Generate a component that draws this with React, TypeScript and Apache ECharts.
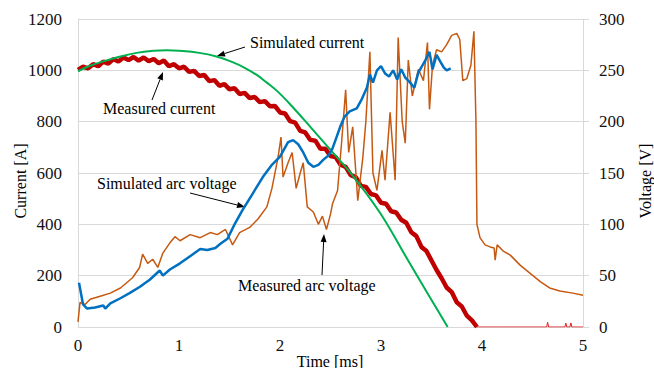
import React, { useEffect, useRef } from "react";
import * as echarts from "echarts";

const CURRENT_TICKS = [0, 200, 400, 600, 800, 1000, 1200];
const VOLTAGE_TICKS = [0, 50, 100, 150, 200, 250, 300];
const TIME_TICKS = [0, 1, 2, 3, 4, 5];

// [time ms, current A]
const measuredCurrent: [number, number][] = [
  [0.0, 1002], [0.05, 1014], [0.1, 1008], [0.15, 1024], [0.2, 1016], [0.25, 1034],
  [0.3, 1026], [0.35, 1044], [0.4, 1034], [0.45, 1050], [0.5, 1040], [0.55, 1052],
  [0.6, 1038], [0.65, 1050], [0.7, 1036], [0.75, 1044], [0.8, 1028], [0.85, 1038],
  [0.9, 1016], [0.95, 1024], [1.0, 1008], [1.05, 1014], [1.1, 994], [1.15, 998],
  [1.2, 978], [1.25, 982], [1.3, 958], [1.35, 962], [1.4, 940], [1.45, 946],
  [1.5, 926], [1.55, 930], [1.6, 908], [1.65, 912], [1.7, 892], [1.75, 896],
  [1.8, 876], [1.85, 880], [1.9, 860], [1.95, 861], [2.0, 836], [2.05, 832],
  [2.1, 802], [2.15, 796], [2.2, 764], [2.25, 758], [2.3, 729], [2.35, 726],
  [2.4, 694], [2.45, 694], [2.5, 666], [2.55, 662], [2.6, 632], [2.65, 624],
  [2.7, 592], [2.75, 584], [2.8, 550], [2.85, 546], [2.9, 518], [2.95, 513],
  [3.0, 484], [3.05, 480], [3.1, 451], [3.15, 446], [3.2, 418], [3.25, 406],
  [3.3, 369], [3.35, 354], [3.4, 312], [3.45, 296], [3.5, 259], [3.55, 222],
  [3.6, 190], [3.65, 154], [3.7, 136], [3.75, 96], [3.8, 80], [3.85, 44],
  [3.9, 26], [3.95, 0], [4.2, 0], [4.64, 0], [4.65, 18], [4.66, 0],
  [4.82, 0], [4.83, 15], [4.84, 0], [4.87, 0], [4.88, 16], [4.89, 0], [5.0, 0],
];
const CURRENT_ZERO_TIME = 3.95;

const simulatedCurrent: [number, number][] = [
  [0, 997], [0.1, 1015], [0.25, 1035], [0.4, 1052], [0.58, 1068], [0.75, 1076],
  [0.88, 1078], [1.0, 1076], [1.2, 1068], [1.37, 1054], [1.53, 1032], [1.65, 1010],
  [1.77, 982], [1.87, 952], [1.97, 920], [2.1, 868], [2.3, 780], [2.5, 690],
  [2.72, 590], [2.99, 445], [3.26, 265], [3.45, 138], [3.66, 0],
];

// [time ms, voltage V]
const simulatedArcVoltage: [number, number][] = [
  [0.01, 43], [0.05, 22], [0.09, 18], [0.17, 19], [0.25, 21], [0.27, 18],
  [0.32, 23], [0.42, 28], [0.51, 33], [0.61, 39], [0.71, 46], [0.81, 55],
  [0.84, 50], [0.91, 56], [1.01, 62], [1.11, 69], [1.21, 76], [1.28, 75],
  [1.36, 77], [1.41, 81], [1.48, 86], [1.55, 100], [1.63, 114], [1.73, 130],
  [1.83, 146], [1.92, 158], [2.0, 166], [2.08, 180], [2.13, 182], [2.18, 178],
  [2.23, 170], [2.28, 160], [2.33, 156], [2.38, 158], [2.43, 163], [2.48, 167],
  [2.52, 174], [2.56, 185], [2.6, 196], [2.64, 205], [2.69, 210], [2.76, 213],
  [2.81, 222], [2.86, 233], [2.89, 246], [2.92, 238], [2.96, 250], [3.0, 254],
  [3.04, 247], [3.08, 244], [3.12, 250], [3.16, 241], [3.2, 251], [3.24, 243],
  [3.28, 239], [3.33, 233], [3.37, 248], [3.4, 253], [3.44, 260], [3.48, 268],
  [3.51, 251], [3.55, 265], [3.59, 258], [3.62, 253], [3.65, 250], [3.69, 252],
];

const measuredArcVoltage: [number, number][] = [
  [0.0, 5], [0.02, 24], [0.07, 22], [0.12, 27], [0.22, 30], [0.32, 33],
  [0.42, 38], [0.54, 48], [0.61, 58], [0.64, 71], [0.69, 62], [0.74, 66],
  [0.79, 58], [0.84, 72], [0.91, 82], [0.96, 88], [1.01, 84], [1.11, 90],
  [1.21, 87], [1.31, 92], [1.38, 90], [1.46, 95], [1.53, 80], [1.6, 92],
  [1.7, 97], [1.78, 105], [1.87, 117], [1.92, 135], [1.98, 165], [2.01, 185],
  [2.03, 146], [2.08, 160], [2.12, 170], [2.16, 135], [2.2, 150], [2.23, 160],
  [2.27, 117], [2.33, 112], [2.38, 100], [2.42, 108], [2.46, 95], [2.5, 110],
  [2.52, 120], [2.57, 133], [2.61, 180], [2.65, 231], [2.68, 170], [2.72, 195],
  [2.77, 123], [2.82, 165], [2.85, 200], [2.89, 268], [2.92, 150], [2.96, 133],
  [3.01, 172], [3.04, 143], [3.09, 209], [3.14, 143], [3.17, 282], [3.21, 200],
  [3.24, 179], [3.27, 260], [3.31, 225], [3.37, 251], [3.42, 240], [3.46, 277],
  [3.48, 212], [3.51, 255], [3.55, 270], [3.6, 268], [3.65, 275], [3.7, 284],
  [3.75, 286], [3.78, 280], [3.81, 240], [3.85, 242], [3.89, 255], [3.92, 288],
  [3.94, 200], [3.95, 100], [3.98, 87], [4.03, 80], [4.08, 78], [4.12, 77],
  [4.13, 65], [4.15, 80], [4.21, 74], [4.28, 70], [4.38, 60], [4.48, 52],
  [4.58, 44], [4.67, 38], [4.77, 35], [4.9, 33], [5.0, 31],
];

const ANNOTATIONS = [
  { text: "Simulated current", x: 250, y: 42, from: [245, 47], to: [217, 56] },
  { text: "Measured current", x: 103, y: 108, from: [152, 100], to: [163, 72] },
  { text: "Simulated arc voltage", x: 97, y: 183, from: [190, 193], to: [245, 207] },
  { text: "Measured arc voltage", x: 238, y: 285, from: [322, 275], to: [324, 234] },
];

const FONT = "Liberation Serif";

function arrow(from: number[], to: number[]) {
  const [x1, y1] = from;
  const [x2, y2] = to;
  const ang = Math.atan2(y2 - y1, x2 - x1);
  const L = 8;
  const W = 3;
  const bx = x2 - L * Math.cos(ang);
  const by = y2 - L * Math.sin(ang);
  const px = -Math.sin(ang) * W;
  const py = Math.cos(ang) * W;
  return [
    {
      type: "line",
      shape: { x1, y1, x2: bx, y2: by },
      style: { stroke: "#000", lineWidth: 1 },
      silent: true,
    },
    {
      type: "polygon",
      shape: { points: [[x2, y2], [bx + px, by + py], [bx - px, by - py]] },
      style: { fill: "#000" },
      silent: true,
    },
  ];
}

export default function App() {
  const ref = useRef<HTMLDivElement>(null);
  useEffect(() => {
    if (!ref.current) return;
    const chart = echarts.init(ref.current, undefined, { renderer: "svg" });
    const graphics: any[] = [];
    ANNOTATIONS.forEach((a) => {
      graphics.push({
        type: "text",
        x: a.x,
        y: a.y,
        style: { text: a.text, fontFamily: FONT, fontSize: 16, fill: "#000", verticalAlign: "middle", align: "left" },
        silent: true,
      });
      graphics.push(...arrow(a.from, a.to));
    });
    const axisTitle = (text: string, x: number, y: number, rot: number) => ({
      type: "text",
      x,
      y,
      rotation: rot,
      style: { text, fontFamily: FONT, fontSize: 16, fill: "#000", align: "center", verticalAlign: "middle" },
      silent: true,
    });
    graphics.push(axisTitle("Current [A]", 20, 181, Math.PI / 2));
    graphics.push(axisTitle("Voltage [V]", 645, 181, Math.PI / 2));
    graphics.push(axisTitle("Time [ms]", 330, 361, 0));

    const labelStyle = { fontFamily: FONT, fontSize: 17, color: "#111" };
    const plain = (v: number) => String(v);
    const active = measuredCurrent.filter((p) => p[0] <= CURRENT_ZERO_TIME);
    const tail = measuredCurrent.filter((p) => p[0] >= CURRENT_ZERO_TIME);
    chart.setOption({
      animation: false,
      backgroundColor: "#fff",
      grid: { left: 78, right: 71, top: 19, bottom: 41, containLabel: false },
      xAxis: {
        type: "value",
        min: TIME_TICKS[0],
        max: TIME_TICKS[TIME_TICKS.length - 1],
        interval: 1,
        axisLine: { show: true, lineStyle: { color: "#d9d9d9", width: 1 } },
        axisTick: { show: false },
        splitLine: { show: false },
        axisLabel: { ...labelStyle, margin: 10, formatter: plain },
      },
      yAxis: [
        {
          type: "value",
          min: CURRENT_TICKS[0],
          max: CURRENT_TICKS[CURRENT_TICKS.length - 1],
          interval: 200,
          axisLine: { show: true, lineStyle: { color: "#d9d9d9" } },
          axisTick: { show: false },
          splitLine: { show: true, lineStyle: { color: "#d9d9d9", width: 1 } },
          axisLabel: { ...labelStyle, margin: 16, formatter: plain },
        },
        {
          type: "value",
          position: "right",
          min: VOLTAGE_TICKS[0],
          max: VOLTAGE_TICKS[VOLTAGE_TICKS.length - 1],
          interval: 50,
          axisLine: { show: true, lineStyle: { color: "#d9d9d9" } },
          axisTick: { show: true, length: 6, lineStyle: { color: "#d9d9d9" } },
          splitLine: { show: false },
          axisLabel: { ...labelStyle, margin: 16, formatter: plain },
        },
      ],
      series: [
        {
          name: "Measured current",
          type: "line",
          yAxisIndex: 0,
          data: active,
          showSymbol: false,
          lineStyle: { color: "#c00000", width: 4.5 },
          z: 2,
        },
        {
          name: "Measured current (after zero)",
          type: "line",
          yAxisIndex: 0,
          data: tail,
          showSymbol: false,
          lineStyle: { color: "#e02020", width: 1 },
          z: 2,
        },
        {
          name: "Measured arc voltage",
          type: "line",
          yAxisIndex: 1,
          data: measuredArcVoltage,
          showSymbol: false,
          lineStyle: { color: "#c65911", width: 1.5 },
          z: 3,
        },
        {
          name: "Simulated current",
          type: "line",
          yAxisIndex: 0,
          data: simulatedCurrent,
          smooth: 0.4,
          showSymbol: false,
          lineStyle: { color: "#00b050", width: 2 },
          z: 4,
        },
        {
          name: "Simulated arc voltage",
          type: "line",
          yAxisIndex: 1,
          data: simulatedArcVoltage,
          showSymbol: false,
          lineStyle: { color: "#0070c0", width: 2.5 },
          z: 5,
        },
      ],
      graphic: graphics,
    });
    return () => chart.dispose();
  }, []);
  return <div ref={ref} style={{ width: 654, height: 368, position: "absolute", left: 0, top: 0 }} />;
}
